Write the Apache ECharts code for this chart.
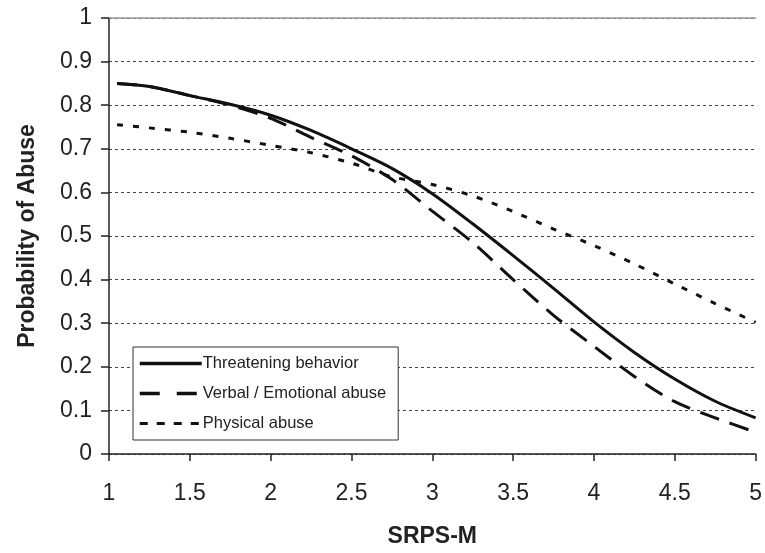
<!DOCTYPE html>
<html>
<head>
<meta charset="utf-8">
<script src="https://cdn.jsdelivr.net/npm/echarts@6/dist/echarts.min.js"></script>
<style>
  html, body { margin: 0; padding: 0; background: #fff; }
  #chart { width: 765px; height: 553px; }
</style>
</head>
<body>
<div id="chart"></div>
<script>
// SRPS-M values (x)
const srpsM = [1.05, 1.25, 1.5, 1.75, 2, 2.25, 2.5, 2.75, 3, 3.25, 3.5, 3.75, 4, 4.25, 4.5, 4.75, 5];
// Probability of abuse per series
const threatening = [0.850, 0.843, 0.822, 0.802, 0.777, 0.742, 0.700, 0.655, 0.597, 0.528, 0.455, 0.380, 0.303, 0.233, 0.172, 0.121, 0.083];
const verbal      = [0.850, 0.843, 0.822, 0.800, 0.770, 0.726, 0.684, 0.630, 0.557, 0.485, 0.400, 0.318, 0.247, 0.178, 0.120, 0.083, 0.050];
const physical    = [0.755, 0.748, 0.738, 0.724, 0.708, 0.691, 0.667, 0.636, 0.618, 0.592, 0.556, 0.516, 0.478, 0.436, 0.390, 0.345, 0.302];
const seriesNames = ['Threatening behavior', 'Verbal / Emotional abuse', 'Physical abuse'];
const xTicks = { min: 1, max: 5, step: 0.5 };
const yTicks = { min: 0, max: 1, step: 0.1 };

const pairs = ys => srpsM.map((x, i) => [x, ys[i]]);
const font = 'Liberation Sans, Arial, sans-serif';

const chart = echarts.init(document.getElementById('chart'), null, { renderer: 'canvas' });
chart.setOption({
  animation: false,
  backgroundColor: '#ffffff',
  color: ['#111', '#111', '#111'],
  grid: { left: 109, right: 4, top: 18, bottom: 95, containLabel: false },
  legend: {
    orient: 'vertical',
    left: 133, top: 347,
    padding: [8, 12, 8, 5],
    itemGap: 13,
    itemWidth: 62,
    itemHeight: 17,
    backgroundColor: '#ffffff',
    borderColor: '#333',
    borderWidth: 1,
    borderRadius: 0,
    itemStyle: { opacity: 0 },
    textStyle: { fontFamily: font, fontSize: 16.5, color: '#222', padding: [0, 0, 0, -4] },
    data: [
      { name: seriesNames[0], itemStyle: { opacity: 0 }, lineStyle: { width: 3.5, color: '#111', type: 'solid' } },
      { name: seriesNames[1], itemStyle: { opacity: 0 }, lineStyle: { width: 3.5, color: '#111', type: [20, 17] } },
      { name: seriesNames[2], itemStyle: { opacity: 0 }, lineStyle: { width: 3, color: '#111', type: [8, 9] } }
    ]
  },
  xAxis: [{
    type: 'value',
    min: xTicks.min, max: xTicks.max, interval: xTicks.step,
    name: 'SRPS-M',
    nameLocation: 'middle',
    nameGap: 71,
    nameTextStyle: { fontFamily: font, fontSize: 23, fontWeight: 'bold', color: '#222' },
    axisLine: { show: true, lineStyle: { color: '#222', width: 1.5 } },
    axisTick: { show: true, inside: false, length: 7, lineStyle: { color: '#222', width: 1.5 } },
    axisLabel: { fontFamily: font, fontSize: 23, color: '#222', margin: 28, showMaxLabel: true },
    splitLine: { show: false }
  }, {
    type: 'value',
    position: 'top',
    min: xTicks.min, max: xTicks.max,
    axisLine: { show: true, onZero: false, lineStyle: { color: '#999', width: 1.5 } },
    axisTick: { show: false },
    axisLabel: { show: false },
    splitLine: { show: false }
  }],
  yAxis: {
    type: 'value',
    min: yTicks.min, max: yTicks.max, interval: yTicks.step,
    name: 'Probability of Abuse',
    nameLocation: 'middle',
    nameGap: 70,
    nameTextStyle: { fontFamily: font, fontSize: 23, fontWeight: 'bold', color: '#222' },
    axisLine: { show: true, lineStyle: { color: '#222', width: 1.5 } },
    axisTick: { show: true, inside: false, length: 8, lineStyle: { color: '#222', width: 1.5 } },
    axisLabel: { fontFamily: font, fontSize: 23, color: '#222', margin: 17 },
    splitLine: { show: true, lineStyle: { color: '#444', width: 1, type: [3, 3] } }
  },
  series: [
    {
      name: seriesNames[0], type: 'line', data: pairs(threatening),
      symbol: 'none', smooth: 0.3,
      lineStyle: { color: '#111', width: 3, type: 'solid' }, z: 3
    },
    {
      name: seriesNames[1], type: 'line', data: pairs(verbal),
      symbol: 'none', smooth: 0.3,
      lineStyle: { color: '#111', width: 3, type: [20, 11] }, z: 2
    },
    {
      name: seriesNames[2], type: 'line', data: pairs(physical),
      symbol: 'none', smooth: 0.3,
      lineStyle: { color: '#111', width: 3, type: [6, 10] }, z: 1
    }
  ]
});
</script>
</body>
</html>
